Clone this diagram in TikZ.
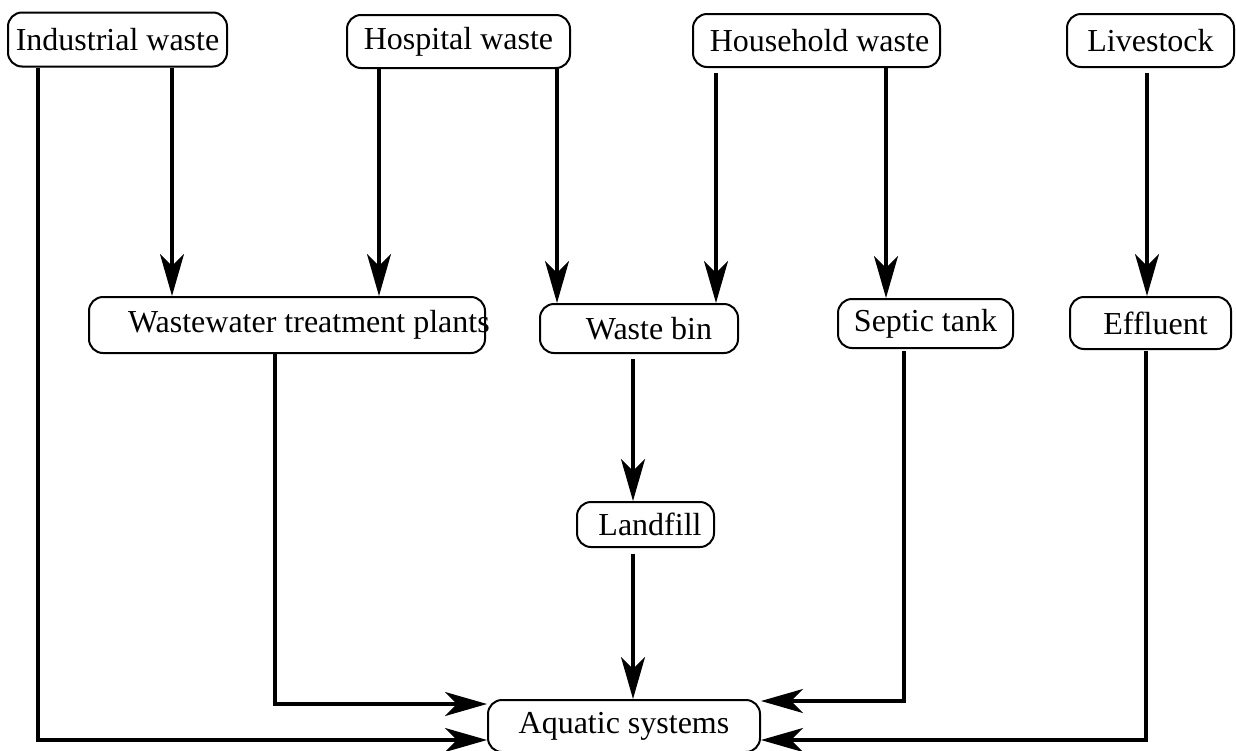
\documentclass[tikz,border=0pt]{standalone}
\usepackage{fontspec}
\setmainfont{Liberation Serif}
\usetikzlibrary{arrows.meta}

\begin{document}
\begin{tikzpicture}[
  x=0.5pt, y=-0.5pt,
  box/.style={
    draw, line width=1pt, rectangle, rounded corners=7pt,
    inner xsep=0pt, inner ysep=0pt,
    font=\fontsize{16}{19}\selectfont
  },
  arr/.style={-{Stealth[length=21pt, width=12pt, inset=6pt]}, line width=1.6pt},
]
\useasboundingbox (0,0) rectangle (1236,750);

% sources
\node[box, minimum width=109.5pt, minimum height=27pt]   (ind)   at (117.5,39.5) {Industrial waste};
\node[box, minimum width=111.5pt, minimum height=26.5pt] (hosp)  at (458.5,41.5) {Hospital waste};
\node[box, minimum width=123.5pt, minimum height=26.5pt] (house) at (816.5,40.5) {\hspace*{3pt}Household waste};
\node[box, minimum width=83.5pt,  minimum height=26.5pt] (live)  at (1150.5,40.5) {Livestock};

% intermediate
\node[box, minimum width=198pt, minimum height=28pt]     (wwtp)  at (287,325)
  {\makebox[198pt][l]{\hspace*{19.5pt}Wastewater treatment plants}};
\node[box, minimum width=99pt,   minimum height=24.5pt]  (bin)   at (639,328.5) {\hspace*{10pt}Waste bin};
\node[box, minimum width=87.5pt, minimum height=24.5pt]  (septic) at (925.5,323.5) {Septic tank};
\node[box, minimum width=80.5pt, minimum height=26pt]    (effl)  at (1150.5,323) {\hspace*{5pt}Effluent};
\node[box, minimum width=68.5pt, minimum height=22.5pt]  (land)  at (645.5,524.5) {\hspace*{4.5pt}Landfill};

% sink
\node[box, minimum width=136pt, minimum height=26pt]     (aqua)  at (624,726) {Aquatic systems};

% downward flows
\draw[arr] (ind.south -| 172,0)  -- (wwtp.north -| 172,0);
\draw[arr] (hosp.south -| 379,0) -- (wwtp.north -| 379,0);
\draw[arr] (hosp.south -| 557,0) -- (bin.north -| 557,0);
\draw[arr, shorten <=2.5pt] (house.south -| 716,0) -- (bin.north -| 716,0);
\draw[arr] (house.south -| 886,0) -- (septic.north -| 886,0);
\draw[arr, shorten <=2.5pt] (live.south -| 1147,0) -- (effl.north -| 1147,0);
\draw[arr, shorten <=2.5pt] (bin.south -| 633,0)  -- (land.north -| 633,0);
\draw[arr, shorten <=3pt]   (land.south -| 633,0) -- (aqua.north -| 633,0);

% into aquatic systems
\draw[arr] (wwtp.south -| 275,0) |- (aqua.west |- 0,704);
\draw[arr] (ind.south -| 38,0)   |- (aqua.west |- 0,740);
\draw[arr, shorten <=1pt] (septic.south -| 904,0) |- (aqua.east |- 0,701);
\draw[arr, shorten <=0.5pt] (effl.south -| 1146,0) |- (aqua.east |- 0,740);

\end{tikzpicture}
\end{document}
